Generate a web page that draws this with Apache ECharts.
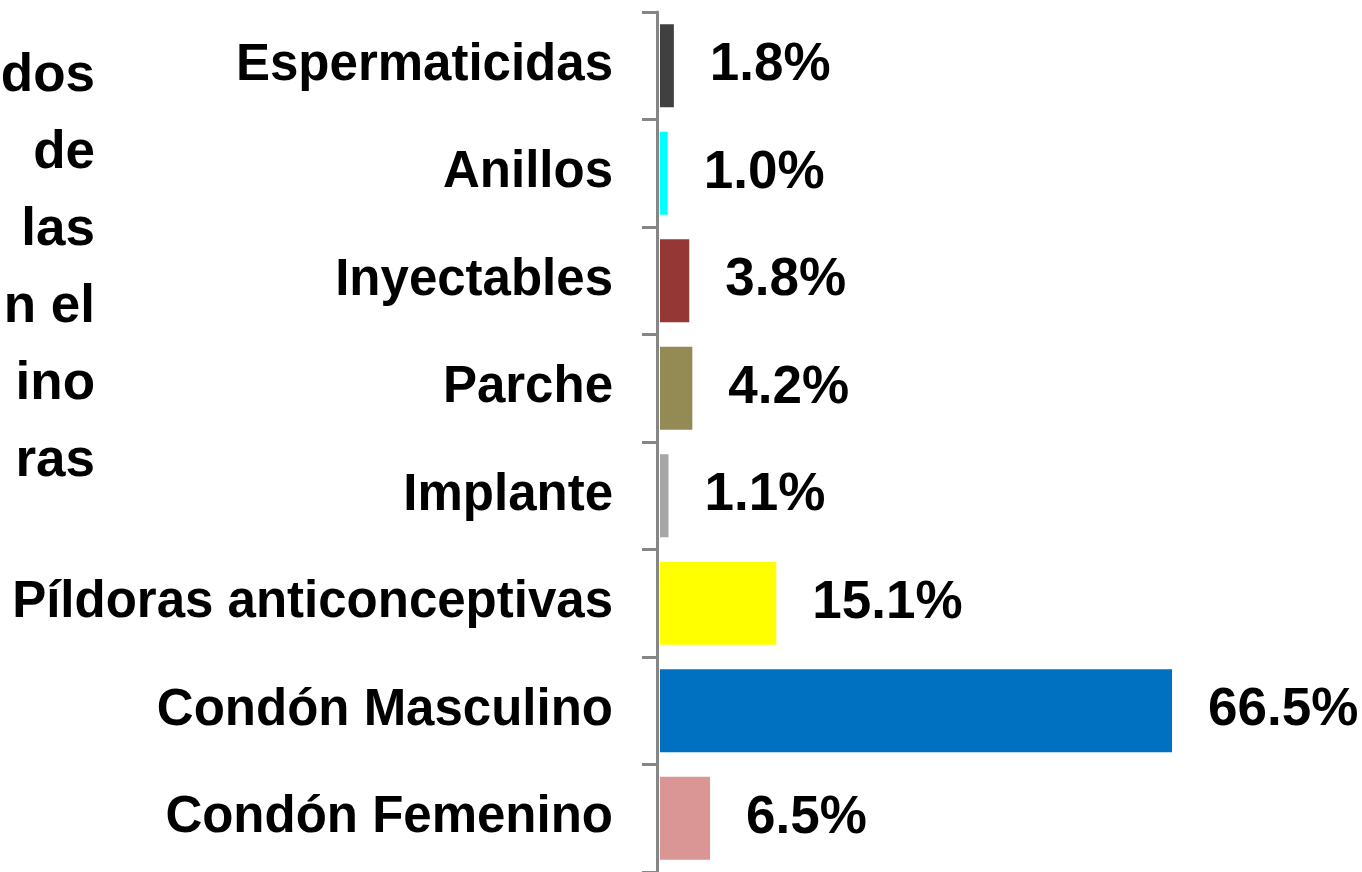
<!DOCTYPE html>
<html>
<head>
<meta charset="utf-8">
<script src="https://cdn.jsdelivr.net/npm/echarts@6/dist/echarts.min.js"></script>
<style>
  html, body { margin: 0; padding: 0; background: #fff; }
  #chart { width: 1362px; height: 872px; }
</style>
</head>
<body>
<div id="chart"></div>
<script>
// bottom-to-top order, as the category axis draws it
const categories = [
  'Condón Femenino',
  'Condón Masculino',
  'Píldoras anticonceptivas',
  'Implante',
  'Parche',
  'Inyectables',
  'Anillos',
  'Espermaticidas'
]
const values = [6.5, 66.5, 15.1, 1.1, 4.2, 3.8, 1.0, 1.8]
const barColors = ['#D99694', '#0070C0', '#FFFF00', '#A6A6A6', '#948A54', '#953735', '#00FFFF', '#404040']
// the visible part of the cut-off title on the left
const titleLines = ['dos', 'de', 'las', 'n el', 'ino', 'ras']

const font = "'Liberation Sans', Arial, sans-serif"
const chart = echarts.init(document.getElementById('chart'))

chart.setOption({
  animation: false,
  backgroundColor: '#fff',
  graphic: [
    {
      type: 'text',
      x: 95,
      y: 38,
      style: {
        text: titleLines.join('\n'),
        font: 'bold 53px ' + font,
        fill: '#000',
        align: 'right',
        verticalAlign: 'top',
        lineHeight: 77
      }
    }
  ],
  grid: {
    left: 657,
    top: 12,
    width: 619,
    height: 862
  },
  xAxis: {
    type: 'value',
    // small negative start keeps the bars just clear of the axis line
    min: -0.39,
    max: 80,
    show: false
  },
  yAxis: {
    type: 'category',
    data: categories,
    axisLine: { show: true, onZero: false, lineStyle: { color: '#868686', width: 3 } },
    axisTick: { show: true, length: 15, lineStyle: { color: '#868686', width: 3 } },
    axisLabel: {
      margin: 44,
      color: '#000',
      fontFamily: font,
      fontWeight: 'bold',
      fontSize: 51
    },
    splitLine: { show: false }
  },
  series: [
    {
      type: 'bar',
      barWidth: 83,
      data: values.map((v, i) => ({ value: v, itemStyle: { color: barColors[i] } })),
      label: {
        show: true,
        position: 'right',
        distance: 36,
        color: '#000',
        fontFamily: font,
        fontWeight: 'bold',
        fontSize: 53,
        formatter: p => p.value.toFixed(1) + '%'
      }
    }
  ]
})
</script>
</body>
</html>
